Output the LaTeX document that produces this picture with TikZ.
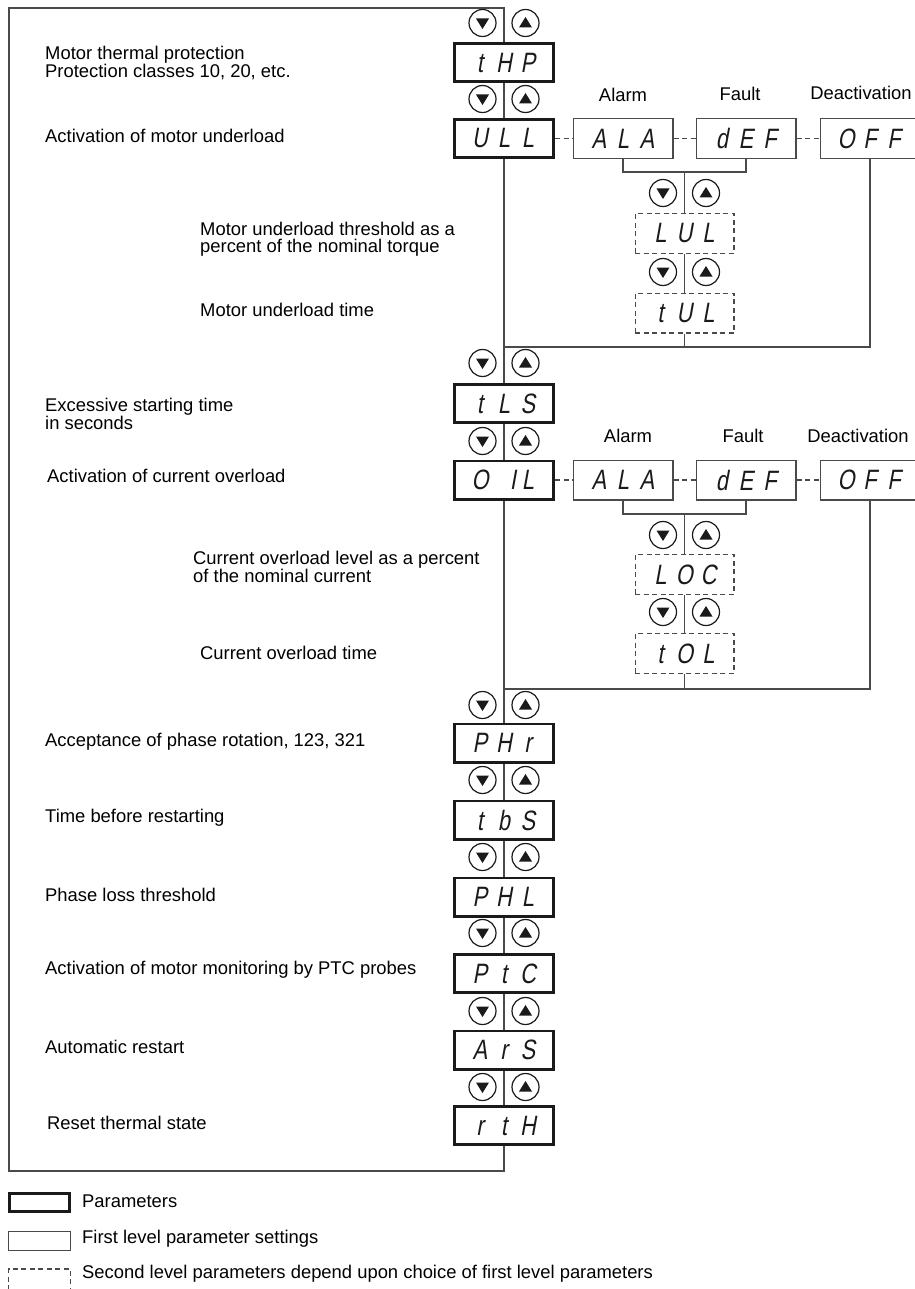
\documentclass[tikz,border=0pt]{standalone}
\usepackage{fontspec}
\setmainfont{Liberation Sans}
\newfontfamily\segff{Liberation Sans}[FakeStretch=0.78,FakeSlant=0.18]
\usetikzlibrary{calc}
\definecolor{lc}{HTML}{4A4A4A}
\definecolor{bc}{HTML}{1A1A1A}
\newcommand\segfnt{\segff\fontsize{28}{28}\selectfont\color{bc}}
\newcommand\sg[3]{\makebox[24pt]{#1}\makebox[24pt]{#2}\makebox[24pt]{#3}}
\newcommand\btnpair[3]{%
  \node[btn] (#1d) at ({#2-21.5},#3) {};
  \node[btn] (#1u) at ({#2+21.5},#3) {};
  \fill[bc,shift={(#1d.center)}] (-6.5,-4.5) -- (6.5,-4.5) -- (0,6) -- cycle;
  \fill[bc,shift={(#1u.center)}] (-6.5,4.5) -- (6.5,4.5) -- (0,-6) -- cycle;
}
\tikzset{
  param/.style={draw=bc, line width=2.8pt, minimum width=99.2pt, minimum height=38.2pt, fill=white, inner sep=0pt, font=\segfnt},
  first/.style={draw=lc, line width=1.2pt, minimum width=99.8pt, minimum height=39.8pt, fill=white, inner sep=0pt, font=\segfnt},
  second/.style={first, dash pattern=on 5pt off 3.5pt, minimum width=98.8pt},
  btn/.style={circle, draw=bc, line width=1.2pt, minimum size=27pt, inner sep=0pt, fill=white},
  conn/.style={draw=lc, line width=1.1pt},
  dconn/.style={conn, dash pattern=on 5pt off 3.5pt},
  lbl/.style={anchor=west, inner sep=0pt, align=left, font=\fontsize{18.4}{17.5}\selectfont},
  hdr/.style={inner sep=0pt, font=\fontsize{18.4}{17}\selectfont}
}
\begin{document}
\begin{tikzpicture}[x=1pt,y=-1pt]
\useasboundingbox (0,0) rectangle (914,1289);

% main parameter column
\node[param] (THP) at (504,62.5) {\sg{t}{H}{P}};
\node[param] (ULL) at (504,138.5) {\sg{U}{L}{L}};
\node[param] (tLS) at (504,403.5) {\sg{t}{L}{S}};
\node[param] (OIL) at (504,480) {\sg{O}{\hfill I}{L}};
\node[param] (PHr) at (504,743) {\sg{P}{H}{r}};
\node[param] (tbS) at (504,820) {\sg{t}{b}{S}};
\node[param] (PHL) at (504,897) {\sg{P}{H}{L}};
\node[param] (PtC) at (504,973.5) {\sg{P}{t}{C}};
\node[param] (ArS) at (504,1050) {\sg{A}{r}{S}};
\node[param] (rtH) at (504,1125.5) {\sg{r}{t}{H}};

% first level settings
\node[first] (ALAa) at (623,138.5) {\sg{A}{L}{A}};
\node[first] (dEFa) at (746,138.5) {\sg{d}{E}{F}};
\node[first] (OFFa) at (870,138.5) {\sg{O}{F}{F}};
\node[first] (ALAb) at (623,480) {\sg{A}{L}{A}};
\node[first] (dEFb) at (746,480) {\sg{d}{E}{F}};
\node[first] (OFFb) at (870,480) {\sg{O}{F}{F}};

% second level
\node[second] (LUL) at (684.5,233.5) {\sg{L}{U}{L}};
\node[second] (tUL) at (684.5,313) {\sg{t}{U}{L}};
\node[second] (LOC) at (684.5,574.5) {\sg{L}{O}{C}};
\node[second] (tOL) at (684.5,653.5) {\sg{t}{O}{L}};

% headers
\node[hdr] (al1) at ($(ALAa.north)+(0,-23.5)$) {Alarm};
\node[hdr] (fa1) at ($(dEFa.north)+(-6,-24.5)$) {Fault};
\node[hdr] (de1) at ($(OFFa.north)+(-9,-25)$) {Deactivation};
\node[hdr] (al2) at ($(ALAb.north)+(5,-23.5)$) {Alarm};
\node[hdr] (fa2) at ($(dEFb.north)+(-3,-23.5)$) {Fault};
\node[hdr] (de2) at ($(OFFb.north)+(-12,-23.5)$) {Deactivation};

% frame and spine
\coordinate (ftl) at (9,8);
\coordinate (ftr) at (504,8);
\coordinate (fbl) at (9,1171);
\coordinate (fbr) at (504,1171);
\draw[conn] (THP) -- (ftr) -- (ftl) -- (fbl) -- (fbr) -- (rtH);
\draw[conn] (THP) -- (ULL);
\coordinate (j1) at (504,347);
\coordinate (j1r) at (870,347);
\draw[conn] (ULL) -- (j1) -- (tLS);
\draw[conn] (j1) -- (j1r) -- (OFFa);
\draw[conn] (tUL) -- (tUL |- j1);
\draw[conn] (tLS) -- (OIL);
\coordinate (j2) at (504,689);
\coordinate (j2r) at (870,689);
\draw[conn] (OIL) -- (j2) -- (PHr);
\draw[conn] (j2) -- (j2r) -- (OFFb);
\draw[conn] (tOL) -- (tOL |- j2);
\draw[conn] (PHr) -- (tbS);
\draw[conn] (tbS) -- (PHL);
\draw[conn] (PHL) -- (PtC);
\draw[conn] (PtC) -- (ArS);
\draw[conn] (ArS) -- (rtH);

% brackets
\coordinate (k1) at (684.5,172);
\draw[conn] (ALAa.south) |- (k1) -| (dEFa.south);
\draw[conn] (k1) -- (LUL);
\draw[conn] (LUL) -- (tUL);
\coordinate (k2) at (684.5,514);
\draw[conn] (ALAb.south) |- (k2) -| (dEFb.south);
\draw[conn] (k2) -- (LOC);
\draw[conn] (LOC) -- (tOL);

% dashed links
\draw[dconn] (ULL) -- (ALAa);
\draw[dconn] (ALAa) -- (dEFa);
\draw[dconn] (dEFa) -- (OFFa);
\draw[dconn] (OIL) -- (ALAb);
\draw[dconn] (ALAb) -- (dEFb);
\draw[dconn] (dEFb) -- (OFFb);

% buttons
\btnpair{ba}{504}{23}
\btnpair{bb}{504}{99}
\btnpair{bc}{504}{363}
\btnpair{bd}{504}{441}
\btnpair{be}{504}{705}
\btnpair{bf}{504}{780}
\btnpair{bg}{504}{857}
\btnpair{bh}{504}{933}
\btnpair{bi}{504}{1011}
\btnpair{bj}{504}{1087}
\btnpair{sa}{684.5}{193}
\btnpair{sb}{684.5}{272}
\btnpair{sc}{684.5}{535}
\btnpair{sd}{684.5}{612}

% left texts
\node[lbl] (t1) at (45,63) {Motor thermal protection\\Protection classes 10, 20, etc.};
\node[lbl] (t2) at (45,136) {Activation of motor underload};
\node[lbl] (t3) at (200,239) {Motor underload threshold as a\\percent of the nominal torque};
\node[lbl] (t4) at (200,310) {Motor underload time};
\node[lbl] (t5) at (45,414) {Excessive starting time\\in seconds};
\node[lbl] (t6) at (47,476) {Activation of current overload};
\node[lbl] (t7) at (193,567) {Current overload level as a percent\\of the nominal current};
\node[lbl] (t8) at (200,653) {Current overload time};
\node[lbl] (t9) at (45,742) {Acceptance of phase rotation, 123, 321};
\node[lbl] (t10) at (45,818) {Time before restarting};
\node[lbl] (t11) at (45,895) {Phase loss threshold};
\node[lbl] (t12) at (45,970) {Activation of motor monitoring by PTC probes};
\node[lbl] (t13) at (45,1047) {Automatic restart};
\node[lbl] (t14) at (47,1123) {Reset thermal state};

% legend
\node[param, minimum width=60.2pt, minimum height=18.2pt] (lg1) at (39.5,1202.5) {};
\node[first, minimum width=61.8pt, minimum height=18.8pt] (lg2) at (39.5,1241) {};
\node[second, minimum width=61.8pt, minimum height=30pt] (lg3) at (39.5,1284) {};
\node[lbl] (lt1) at (82,1201) {Parameters};
\node[lbl] (lt2) at (82,1239) {First level parameter settings};
\node[lbl] (lt3) at (82,1274) {Second level parameters depend upon choice of first level parameters};
\end{tikzpicture}
\end{document}
